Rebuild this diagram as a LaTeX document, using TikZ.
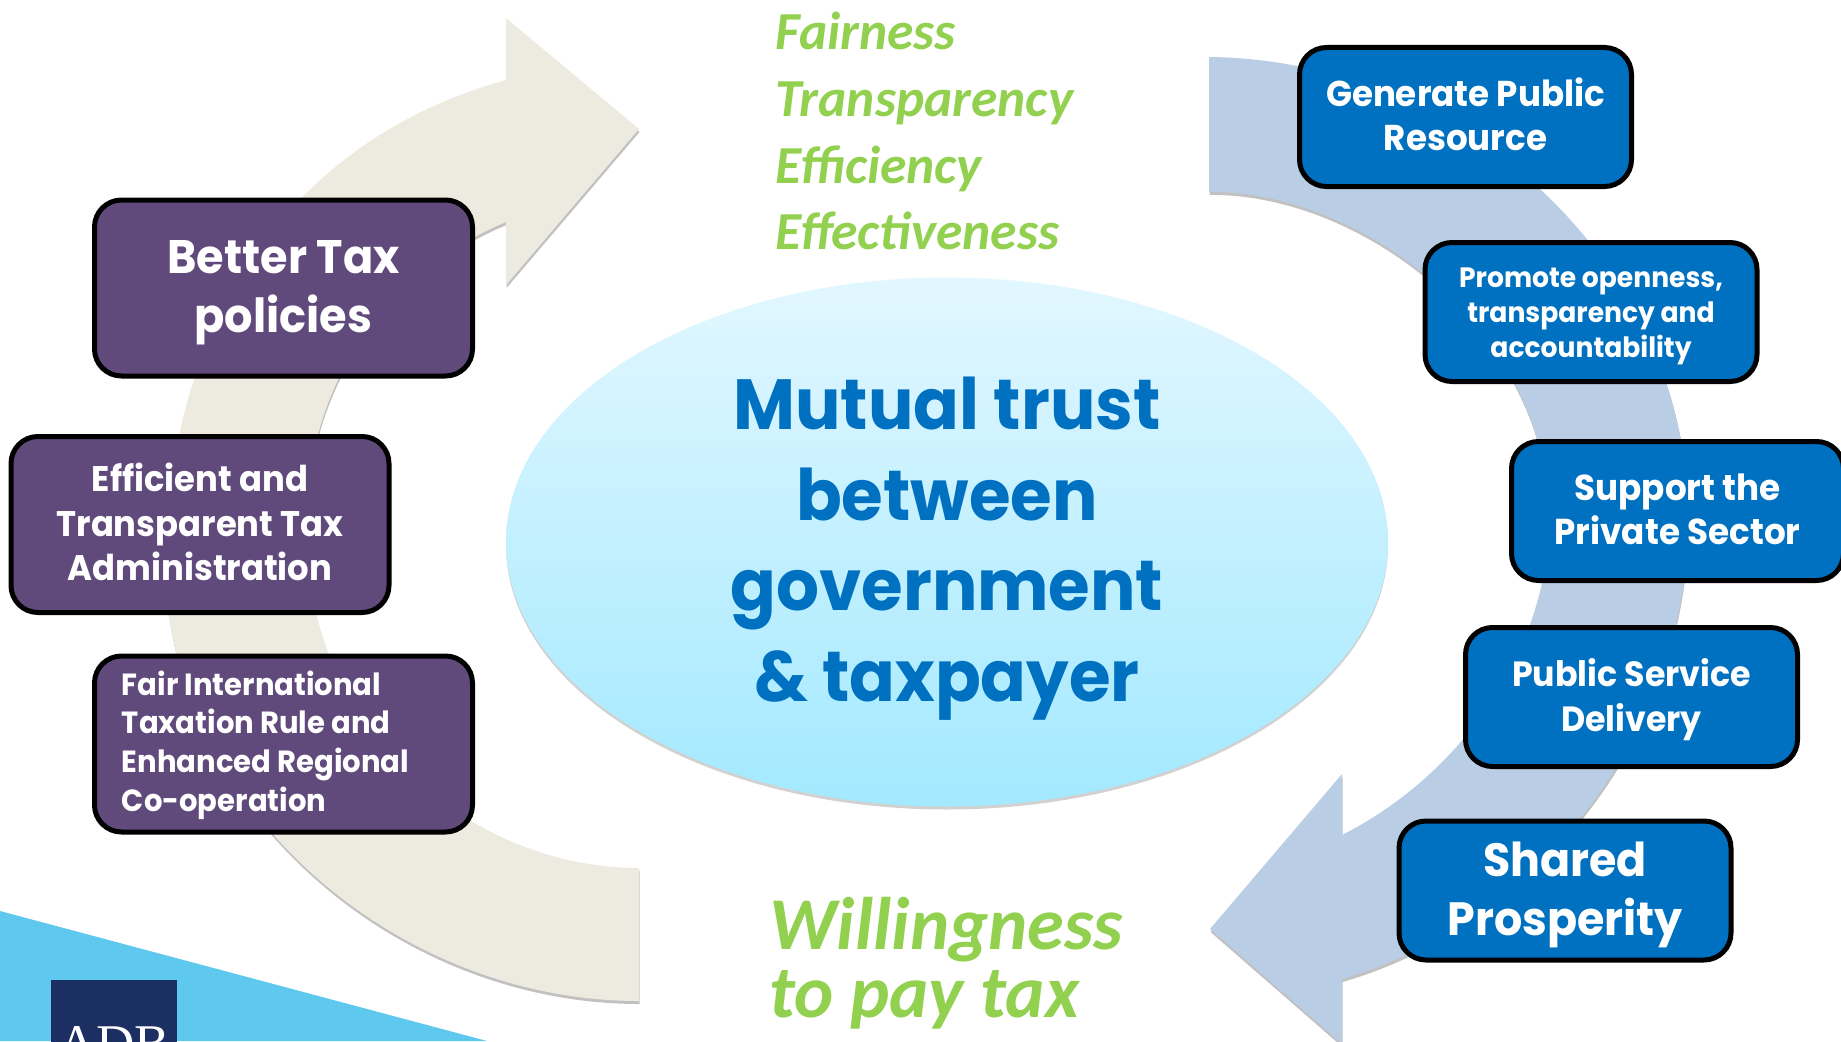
\documentclass[tikz,border=0pt]{standalone}
\usepackage{fontspec}
\usetikzlibrary{shadows,shapes.geometric}
\setmainfont{Carlito}
\newfontfamily\boxfont[FakeStretch=0.95]{Poppins}
\newfontfamily\logofont{Liberation Serif}
\definecolor{purplebox}{HTML}{604A7B}
\definecolor{bluebox}{HTML}{0070C0}
\definecolor{beigearrow}{HTML}{EDEBE0}
\definecolor{bluearrow}{HTML}{B9CDE5}
\definecolor{greentext}{HTML}{92D050}
\definecolor{skycorner}{HTML}{5EC8EE}
\definecolor{logonavy}{HTML}{1B2F62}
\definecolor{skytop}{HTML}{E2F7FF}
\definecolor{skybottom}{HTML}{A3E9FF}
\newcommand{\boxlines}[3][c]{\raisebox{\dimexpr#2pt-.25em\relax}[0pt][0pt]{\begin{tabular}{@{}#1@{}}#3\end{tabular}}}

\begin{document}
\begin{tikzpicture}[x=1pt, y=-1pt]
    \tikzstyle{bigarrow}=[drop shadow={shadow xshift=0.5pt,shadow yshift=-3pt,opacity=0.35,fill=black!70}]
    \tikzstyle{taxbox}=[rectangle,rounded corners=27pt,draw=black,line width=5pt,inner sep=0pt,text=white,align=center]
    \tikzstyle{purplenode}=[taxbox,fill=purplebox,minimum width=378pt,minimum height=176pt]
    \tikzstyle{bluenode}=[taxbox,fill=bluebox,minimum width=332pt,minimum height=139pt]
    \tikzstyle{greenword}=[anchor=base west,inner sep=0pt,text=greentext,font=\fontsize{53.5}{53.5}\selectfont\bfseries\itshape]

    \useasboundingbox (0,0) rectangle (1841,1041);

    \fill[skycorner] (0,911) -- (487,1041) -- (0,1041) -- cycle;
    \node[rectangle,fill=logonavy,minimum width=126pt,minimum height=70pt,inner sep=0pt] (logo) at (114,1015) {};
    \node[anchor=base,inner sep=0pt,text=white,font=\logofont\fontsize{53}{53}\selectfont] (logotext) at (114,1061) {ADB};

    % arrow on the left
    \path[fill=beigearrow,bigarrow] (639,868)
        .. controls (470,868) and (306,730) .. (306,530)
        .. controls (305,390) and (380,275) .. (506,222)
        -- (506,285) -- (639,129) -- (506,18) -- (506,80)
        .. controls (290,140) and (170,320) .. (165,560)
        .. controls (165,800) and (390,1001) .. (639,1001)
        -- cycle;

    % arrow on the right
    \path[fill=bluearrow,bigarrow] (1209,57)
        .. controls (1470,60) and (1690,270) .. (1688,520)
        .. controls (1688,740) and (1530,925) .. (1342,979)
        -- (1342,1044) -- (1210,929) -- (1342,774) -- (1342,835)
        .. controls (1470,770) and (1549,640) .. (1549,520)
        .. controls (1549,330) and (1360,190) .. (1209,192)
        -- cycle;

    \node[ellipse,minimum width=882pt,minimum height=529pt,inner sep=0pt,top color=skytop,bottom color=skybottom,text=bluebox,align=center,
          font=\boxfont\bfseries\fontsize{71}{90.5}\selectfont,drop shadow={shadow xshift=0pt,shadow yshift=-3pt,opacity=0.3,fill=black!60}] (trust) at (947,542)
        {\boxlines{6}{Mutual trust\\between\\government\\\& taxpayer}};

    \node[purplenode,font=\boxfont\bfseries\fontsize{47}{59}\selectfont] (policies) at (283.5,288) {\boxlines{2}{Better Tax\\policies}};
    \node[purplenode,font=\boxfont\bfseries\fontsize{35.6}{44.6}\selectfont] (admin) at (200,524.5) {\boxlines{0}{Efficient and\\Transparent Tax\\Administration}};
    \node[purplenode,font=\boxfont\bfseries\fontsize{30.6}{38.7}\selectfont] (fair) at (283.5,744) {\boxlines[l]{0}{Fair International\\Taxation Rule and\\Enhanced Regional\\Co-operation}\hspace*{36pt}};

    \node[bluenode,font=\boxfont\bfseries\fontsize{35.9}{44}\selectfont] (resource) at (1465.5,117) {\boxlines{0}{Generate Public\\Resource}};
    \node[bluenode,font=\boxfont\bfseries\fontsize{28}{35}\selectfont] (openness) at (1591,312) {\boxlines{-2.3}{Promote openness,\\transparency and\\accountability}};
    \node[bluenode,font=\boxfont\bfseries\fontsize{36}{44}\selectfont] (privsector) at (1677.5,511) {\boxlines{0}{Support the\\Private Sector}};
    \node[bluenode,font=\boxfont\bfseries\fontsize{35}{45}\selectfont] (delivery) at (1631.5,697) {\boxlines{-0.7}{Public Service\\Delivery}};
    \node[bluenode,font=\boxfont\bfseries\fontsize{46.7}{59}\selectfont] (prosperity) at (1565,890.5) {\boxlines{2}{Shared\\Prosperity}};

    \node[greenword] (fairness) at (775,49) {Fairness};
    \node[greenword] (transp) at (775,116) {Transparency};
    \node[greenword] (efficiency) at (775,183) {Efficiency};
    \node[greenword] (effective) at (775,249) {Effectiveness};
    \node[greenword,font=\fontsize{74.5}{74.5}\selectfont\bfseries\itshape] (willing) at (769,949) {Willingness};
    \node[greenword,font=\fontsize{74.5}{74.5}\selectfont\bfseries\itshape] (paytax) at (769,1017) {to pay tax};
\end{tikzpicture}
\end{document}
